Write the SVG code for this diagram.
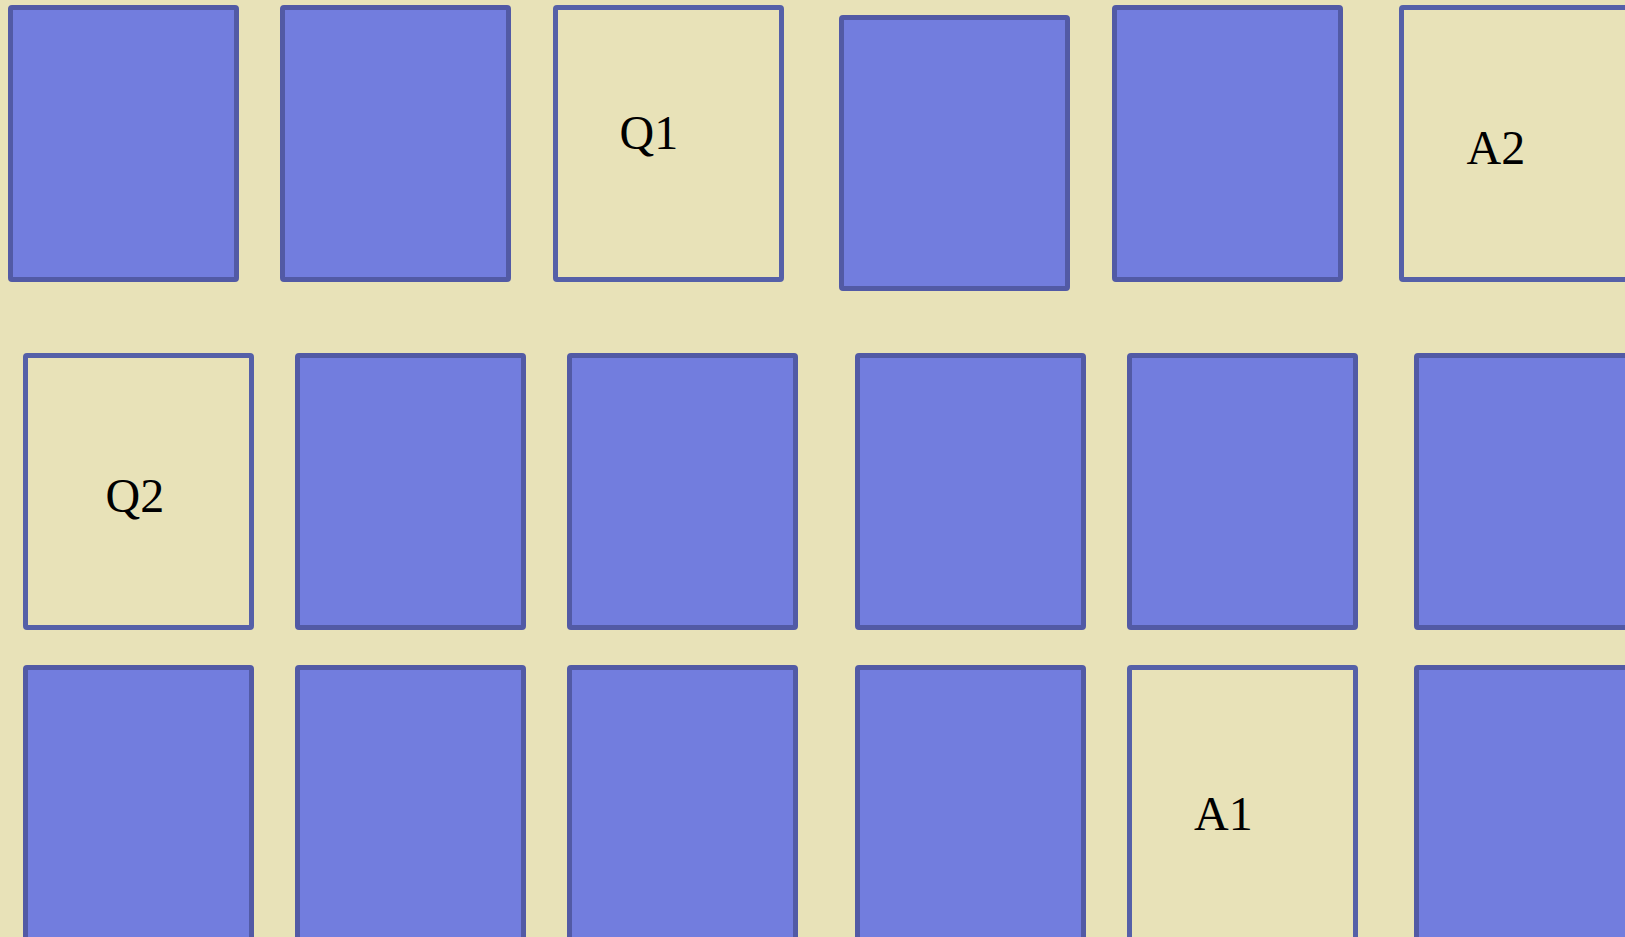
<svg xmlns="http://www.w3.org/2000/svg" width="1625" height="937" viewBox="0 0 1625 937">
<style>
.b{fill:#727DDE;stroke:#525AA5;stroke-width:5}
.c{fill:#E8E2B8;stroke:#5560A8;stroke-width:5}
.t{font-family:"Liberation Serif","Times New Roman",serif;font-size:48px;fill:#000}
</style>
<rect width="1625" height="937" fill="#E8E2B8"/>
<g id="r1c1"><rect class="b" x="10.5" y="7.5" width="226" height="272" rx="1.5"/></g>
<g id="r1c2"><rect class="b" x="282.5" y="7.5" width="226" height="272" rx="1.5"/></g>
<g id="Q1"><rect class="c" x="555.5" y="7.5" width="226" height="272" rx="1.5"/><text class="t" x="619.5" y="149">Q1</text></g>
<g id="r1c4"><rect class="b" x="841.5" y="17.5" width="226" height="271" rx="1.5"/></g>
<g id="r1c5"><rect class="b" x="1114.5" y="7.5" width="226" height="272" rx="1.5"/></g>
<g id="A2"><rect class="c" x="1401.5" y="7.5" width="226" height="272" rx="1.5"/><text class="t" x="1466.5" y="164">A2</text></g>
<g id="Q2"><rect class="c" x="25.5" y="355.5" width="226" height="272" rx="1.5"/><text class="t" x="105.5" y="512">Q2</text></g>
<g id="r2c2"><rect class="b" x="297.5" y="355.5" width="226" height="272" rx="1.5"/></g>
<g id="r2c3"><rect class="b" x="569.5" y="355.5" width="226" height="272" rx="1.5"/></g>
<g id="r2c4"><rect class="b" x="857.5" y="355.5" width="226" height="272" rx="1.5"/></g>
<g id="r2c5"><rect class="b" x="1129.5" y="355.5" width="226" height="272" rx="1.5"/></g>
<g id="r2c6"><rect class="b" x="1416.5" y="355.5" width="226" height="272" rx="1.5"/></g>
<g id="r3c1"><rect class="b" x="25.5" y="667.5" width="226" height="272" rx="1.5"/></g>
<g id="r3c2"><rect class="b" x="297.5" y="667.5" width="226" height="272" rx="1.5"/></g>
<g id="r3c3"><rect class="b" x="569.5" y="667.5" width="226" height="272" rx="1.5"/></g>
<g id="r3c4"><rect class="b" x="857.5" y="667.5" width="226" height="272" rx="1.5"/></g>
<g id="A1"><rect class="c" x="1129.5" y="667.5" width="226" height="272" rx="1.5"/><text class="t" x="1194" y="830">A1</text></g>
<g id="r3c6"><rect class="b" x="1416.5" y="667.5" width="226" height="272" rx="1.5"/></g>
<g id="connectors"></g>
</svg>
